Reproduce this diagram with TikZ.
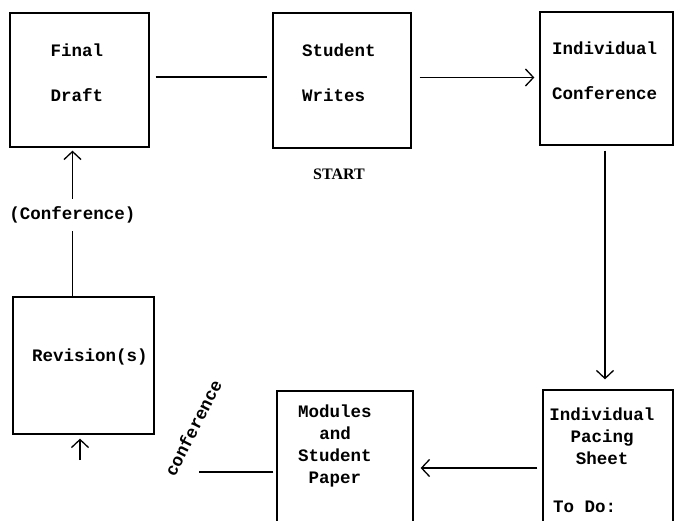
\documentclass[tikz,border=0pt]{standalone}
\usepackage{fontspec}
\usepackage{tikz}
\usetikzlibrary{arrows.meta}
\newfontfamily\typer{Liberation Mono}
\newfontfamily\stamp{Liberation Serif}
\tikzstyle{stage} = [rectangle, draw=black, line width=1.3pt, inner sep=0pt]
\tikzstyle{words} = [inner sep=0pt, font=\typer\bfseries\fontsize{17.5}{22}\selectfont]
\tikzstyle{link} = [line width=1.3pt]
\tikzstyle{arrow} = [line width=1.3pt, -{Straight Barb[length=8pt,width=17pt]}]

\begin{document}
\begin{tikzpicture}[x=1pt, y=-1pt]
                    \useasboundingbox (0,0) rectangle (675,521);

                    \node (final) [stage, minimum width=139, minimum height=134] at (79.5,80) {};
                    \node (student) [stage, minimum width=138, minimum height=135] at (342,80.5) {};
                    \node (confer) [stage, minimum width=133, minimum height=133] at (606.5,78.5) {};
                    \node (revision) [stage, minimum width=141, minimum height=137] at (83.5,365.5) {};
                    \node (modules) [stage, minimum width=136, minimum height=149] at (345,465.5) {};
                    \node (pacing) [stage, minimum width=130, minimum height=150] at (608,465) {};

                    \node (finaltxt) [words] at (77,50) {Final};
                    \node (drafttxt) [words] at (77,95) {Draft};
                    \node (studenttxt) [words, anchor=west] at (302,50) {Student};
                    \node (writestxt) [words, anchor=west] at (302,95) {Writes};
                    \node (indivtxt) [words, anchor=west] at (552,48) {Individual};
                    \node (confertxt) [words, anchor=west] at (552,93) {Conference};
                    \node (revisiontxt) [words] at (90,357) {Revision(s)};
                    \node (modulestxt) [words, align=center] at (335,446) {Modules\\and\\Student\\Paper};
                    \node (pacingtxt) [words, align=center] at (602,436) {Individual\\Pacing\\Sheet};
                    \node (todotxt) [words, anchor=west] at (553,507) {To Do:};

                    \node (starttxt) [inner sep=0pt, font=\stamp\bfseries\fontsize{16}{19}\selectfont] at (339,174) {START};
                    \node (conflabel) [words, rotate=63] at (193,428) {conference};

                    \coordinate (confend) at (199,472);
                    \coordinate (revfoot) at (80,460);

                    \draw[link, shorten <=6pt, shorten >=5pt] ([yshift=3pt]final.east) -- ([yshift=3pt]final.east -| student.west);
                    \draw[arrow, shorten <=8pt, shorten >=5pt] ([yshift=3pt]student.east) -- ([yshift=3pt]student.east -| confer.west);
                    \draw[arrow, shorten <=5pt, shorten >=10pt] ([xshift=-1.5pt]confer.south) -- ([xshift=-1.5pt]confer.south |- pacing.north);
                    \draw[arrow, shorten <=5pt, shorten >=7pt] ([yshift=-3pt]pacing.west) -- ([yshift=-3pt]pacing.west -| modules.east);
                    \draw[link, shorten <=3pt] ([yshift=-6.5pt]modules.west) -- (confend);
                    \draw[arrow, shorten >=4pt] (revfoot) -- ([xshift=-3.5pt]revision.south);
                    \draw[arrow, shorten >=3pt] ([xshift=-11pt]revision.north) -- node[words, fill=white, inner xsep=2pt, inner ysep=8pt, pos=0.547] (conftxt) {(Conference)} ([xshift=-7pt]final.south);
                \end{tikzpicture}
\end{document}
